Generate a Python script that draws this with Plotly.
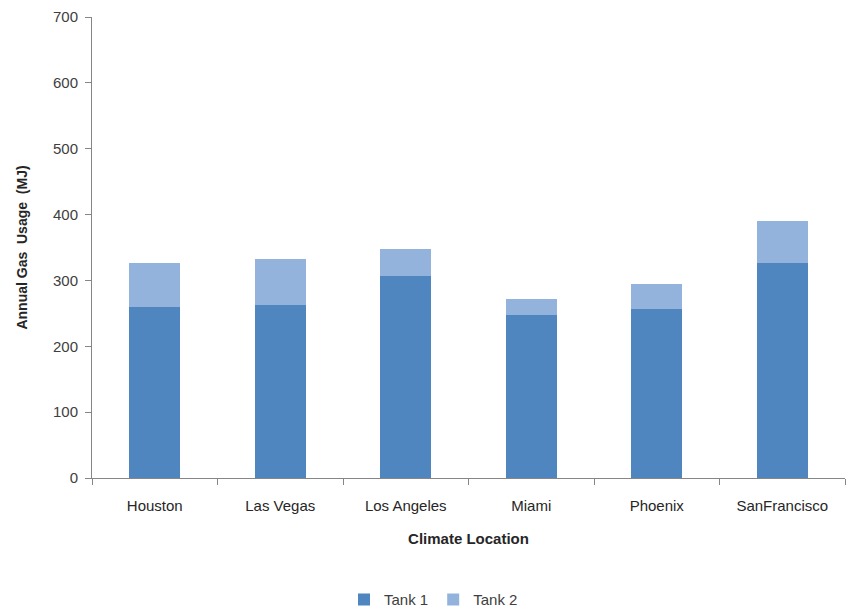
import plotly.graph_objects as go

categories = ["Houston", "Las Vegas", "Los Angeles", "Miami", "Phoenix", "SanFrancisco"]
tank1 = [259, 262, 307, 247, 257, 327]
tank2 = [67, 71, 41, 25, 37, 63]
y_ticks = [0, 100, 200, 300, 400, 500, 600, 700]

FONT = "Liberation Sans"
fig = go.Figure()
fig.add_trace(go.Bar(
    x=categories, y=tank1, name="Tank 1",
    marker=dict(color="#4F86C0", line=dict(width=0)),
))
fig.add_trace(go.Bar(
    x=categories, y=tank2, name="Tank 2",
    marker=dict(color="#93B3DD", line=dict(width=0)),
))

fig.update_layout(
    barmode="stack",
    bargap=0.59,
    width=850, height=609,
    margin=dict(l=92, r=5, t=17, b=131),
    paper_bgcolor="white", plot_bgcolor="white",
    font=dict(family=FONT, size=15, color="#404040"),
    showlegend=True,
    legend=dict(
        orientation="h", xref="container", yref="container",
        x=0.51, y=0.015, xanchor="center", yanchor="middle",
        font=dict(family=FONT, size=15, color="#404040"),
        itemwidth=30, traceorder="normal",
    ),
    xaxis=dict(
        type="category",
        showline=True, linecolor="#868686", linewidth=1,
        ticks="outside", tickson="boundaries", ticklen=6, tickcolor="#868686",
        ticklabelstandoff=14,
        showgrid=False,
        title=dict(text="<b>Climate Location</b>", font=dict(family=FONT, size=15, color="#262626"), standoff=20),
        tickfont=dict(family=FONT, size=15, color="#262626"),
    ),
    yaxis=dict(
        range=[0, 700], tickvals=y_ticks,
        showline=True, linecolor="#868686", linewidth=1,
        ticks="outside", ticklen=6, tickcolor="#868686",
        ticklabelstandoff=4,
        showgrid=False, zeroline=False,
        title=dict(text="<b>Annual Gas  Usage  (MJ)</b>", font=dict(family=FONT, size=14, color="#262626"), standoff=22),
        tickfont=dict(family=FONT, size=15, color="#404040"),
    ),
)

fig.write_html("out.html")
